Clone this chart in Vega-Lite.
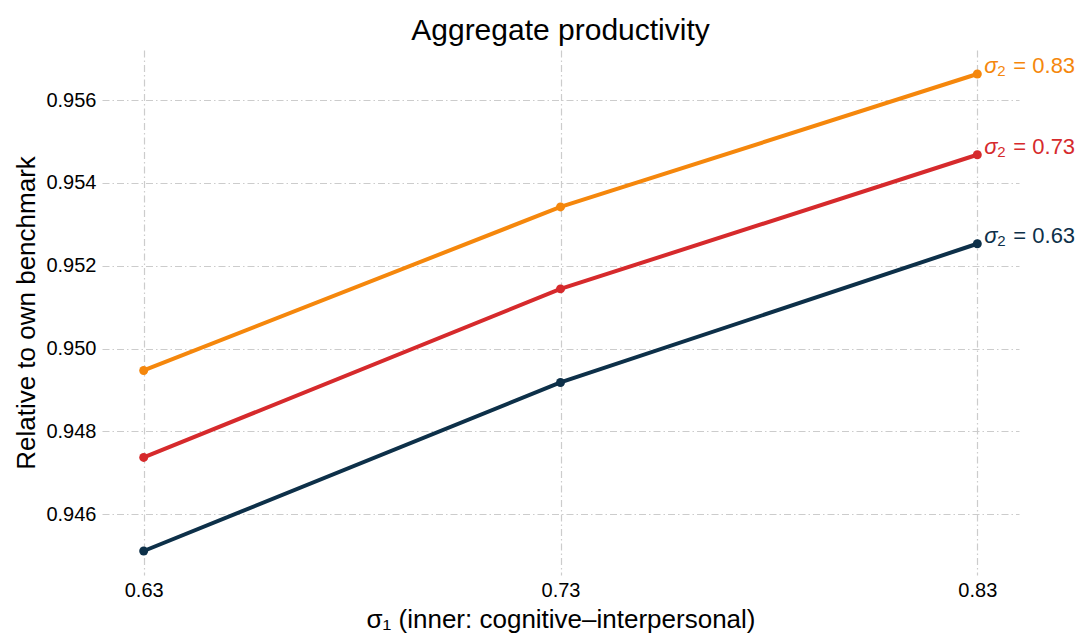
{
  "$schema": "https://vega.github.io/schema/vega-lite/v6.json",
  "width": 917,
  "height": 525,
  "autosize": {"type": "none"},
  "padding": {"left": 102, "top": 50, "right": 62, "bottom": 60},
  "background": "white",
  "title": {
    "text": "Aggregate productivity",
    "font": "Liberation Sans",
    "fontSize": 30,
    "fontWeight": "normal",
    "color": "#000000",
    "anchor": "middle",
    "offset": 4
  },
  "config": {
    "view": {"stroke": null},
    "axis": {
      "labelFont": "Liberation Sans",
      "titleFont": "Liberation Sans",
      "labelFontSize": 20,
      "titleFontSize": 26,
      "titleFontWeight": "normal",
      "labelColor": "#000000",
      "titleColor": "#000000",
      "domain": false,
      "ticks": false,
      "grid": true,
      "gridColor": "#cccccc",
      "gridWidth": 1.2,
      "gridDash": [7, 3, 1.5, 3]
    }
  },
  "data": {
    "values": [
      {"sigma1": 0.63, "sigma2": "0.63", "value": 0.94511},
      {"sigma1": 0.73, "sigma2": "0.63", "value": 0.94918},
      {"sigma1": 0.83, "sigma2": "0.63", "value": 0.95253},
      {"sigma1": 0.63, "sigma2": "0.73", "value": 0.94737},
      {"sigma1": 0.73, "sigma2": "0.73", "value": 0.95144},
      {"sigma1": 0.83, "sigma2": "0.73", "value": 0.95468},
      {"sigma1": 0.63, "sigma2": "0.83", "value": 0.94947},
      {"sigma1": 0.73, "sigma2": "0.83", "value": 0.95342},
      {"sigma1": 0.83, "sigma2": "0.83", "value": 0.95663}
    ]
  },
  "encoding": {
    "x": {
      "field": "sigma1",
      "type": "quantitative",
      "scale": {"domain": [0.62, 0.84], "nice": false, "zero": false},
      "axis": {
        "values": [0.63, 0.73, 0.83],
        "format": ".2f",
        "title": "σ₁ (inner: cognitive–interpersonal)",
        "labelPadding": 5,
        "titlePadding": 6
      }
    },
    "y": {
      "field": "value",
      "type": "quantitative",
      "scale": {"domain": [0.94453, 0.95721], "nice": false, "zero": false},
      "axis": {
        "values": [0.946, 0.948, 0.95, 0.952, 0.954, 0.956],
        "format": ".3f",
        "title": "Relative to own benchmark",
        "labelPadding": 6,
        "titlePadding": 6
      }
    },
    "color": {
      "field": "sigma2",
      "type": "nominal",
      "scale": {
        "domain": ["0.63", "0.73", "0.83"],
        "range": ["#0d3049", "#d62a2c", "#f5870c"]
      },
      "legend": null
    }
  },
  "layer": [
    {"mark": {"type": "line", "strokeWidth": 4}},
    {"mark": {"type": "point", "filled": true, "size": 80, "opacity": 1}},
    {
      "transform": [{"filter": "datum.sigma1 == 0.83"}],
      "mark": {
        "type": "text",
        "align": "left",
        "baseline": "middle",
        "dx": 7,
        "dy": -8,
        "font": "Liberation Sans",
        "fontSize": 22,
        "fontStyle": "italic"
      },
      "encoding": {"text": {"value": "σ"}}
    },
    {
      "transform": [{"filter": "datum.sigma1 == 0.83"}],
      "mark": {
        "type": "text",
        "align": "left",
        "baseline": "middle",
        "dx": 20,
        "dy": -3,
        "font": "Liberation Sans",
        "fontSize": 15
      },
      "encoding": {"text": {"value": "2"}}
    },
    {
      "transform": [
        {"filter": "datum.sigma1 == 0.83"},
        {"calculate": "'= ' + datum.sigma2", "as": "label"}
      ],
      "mark": {
        "type": "text",
        "align": "left",
        "baseline": "middle",
        "dx": 36,
        "dy": -8,
        "font": "Liberation Sans",
        "fontSize": 22
      },
      "encoding": {"text": {"field": "label"}}
    }
  ]
}
